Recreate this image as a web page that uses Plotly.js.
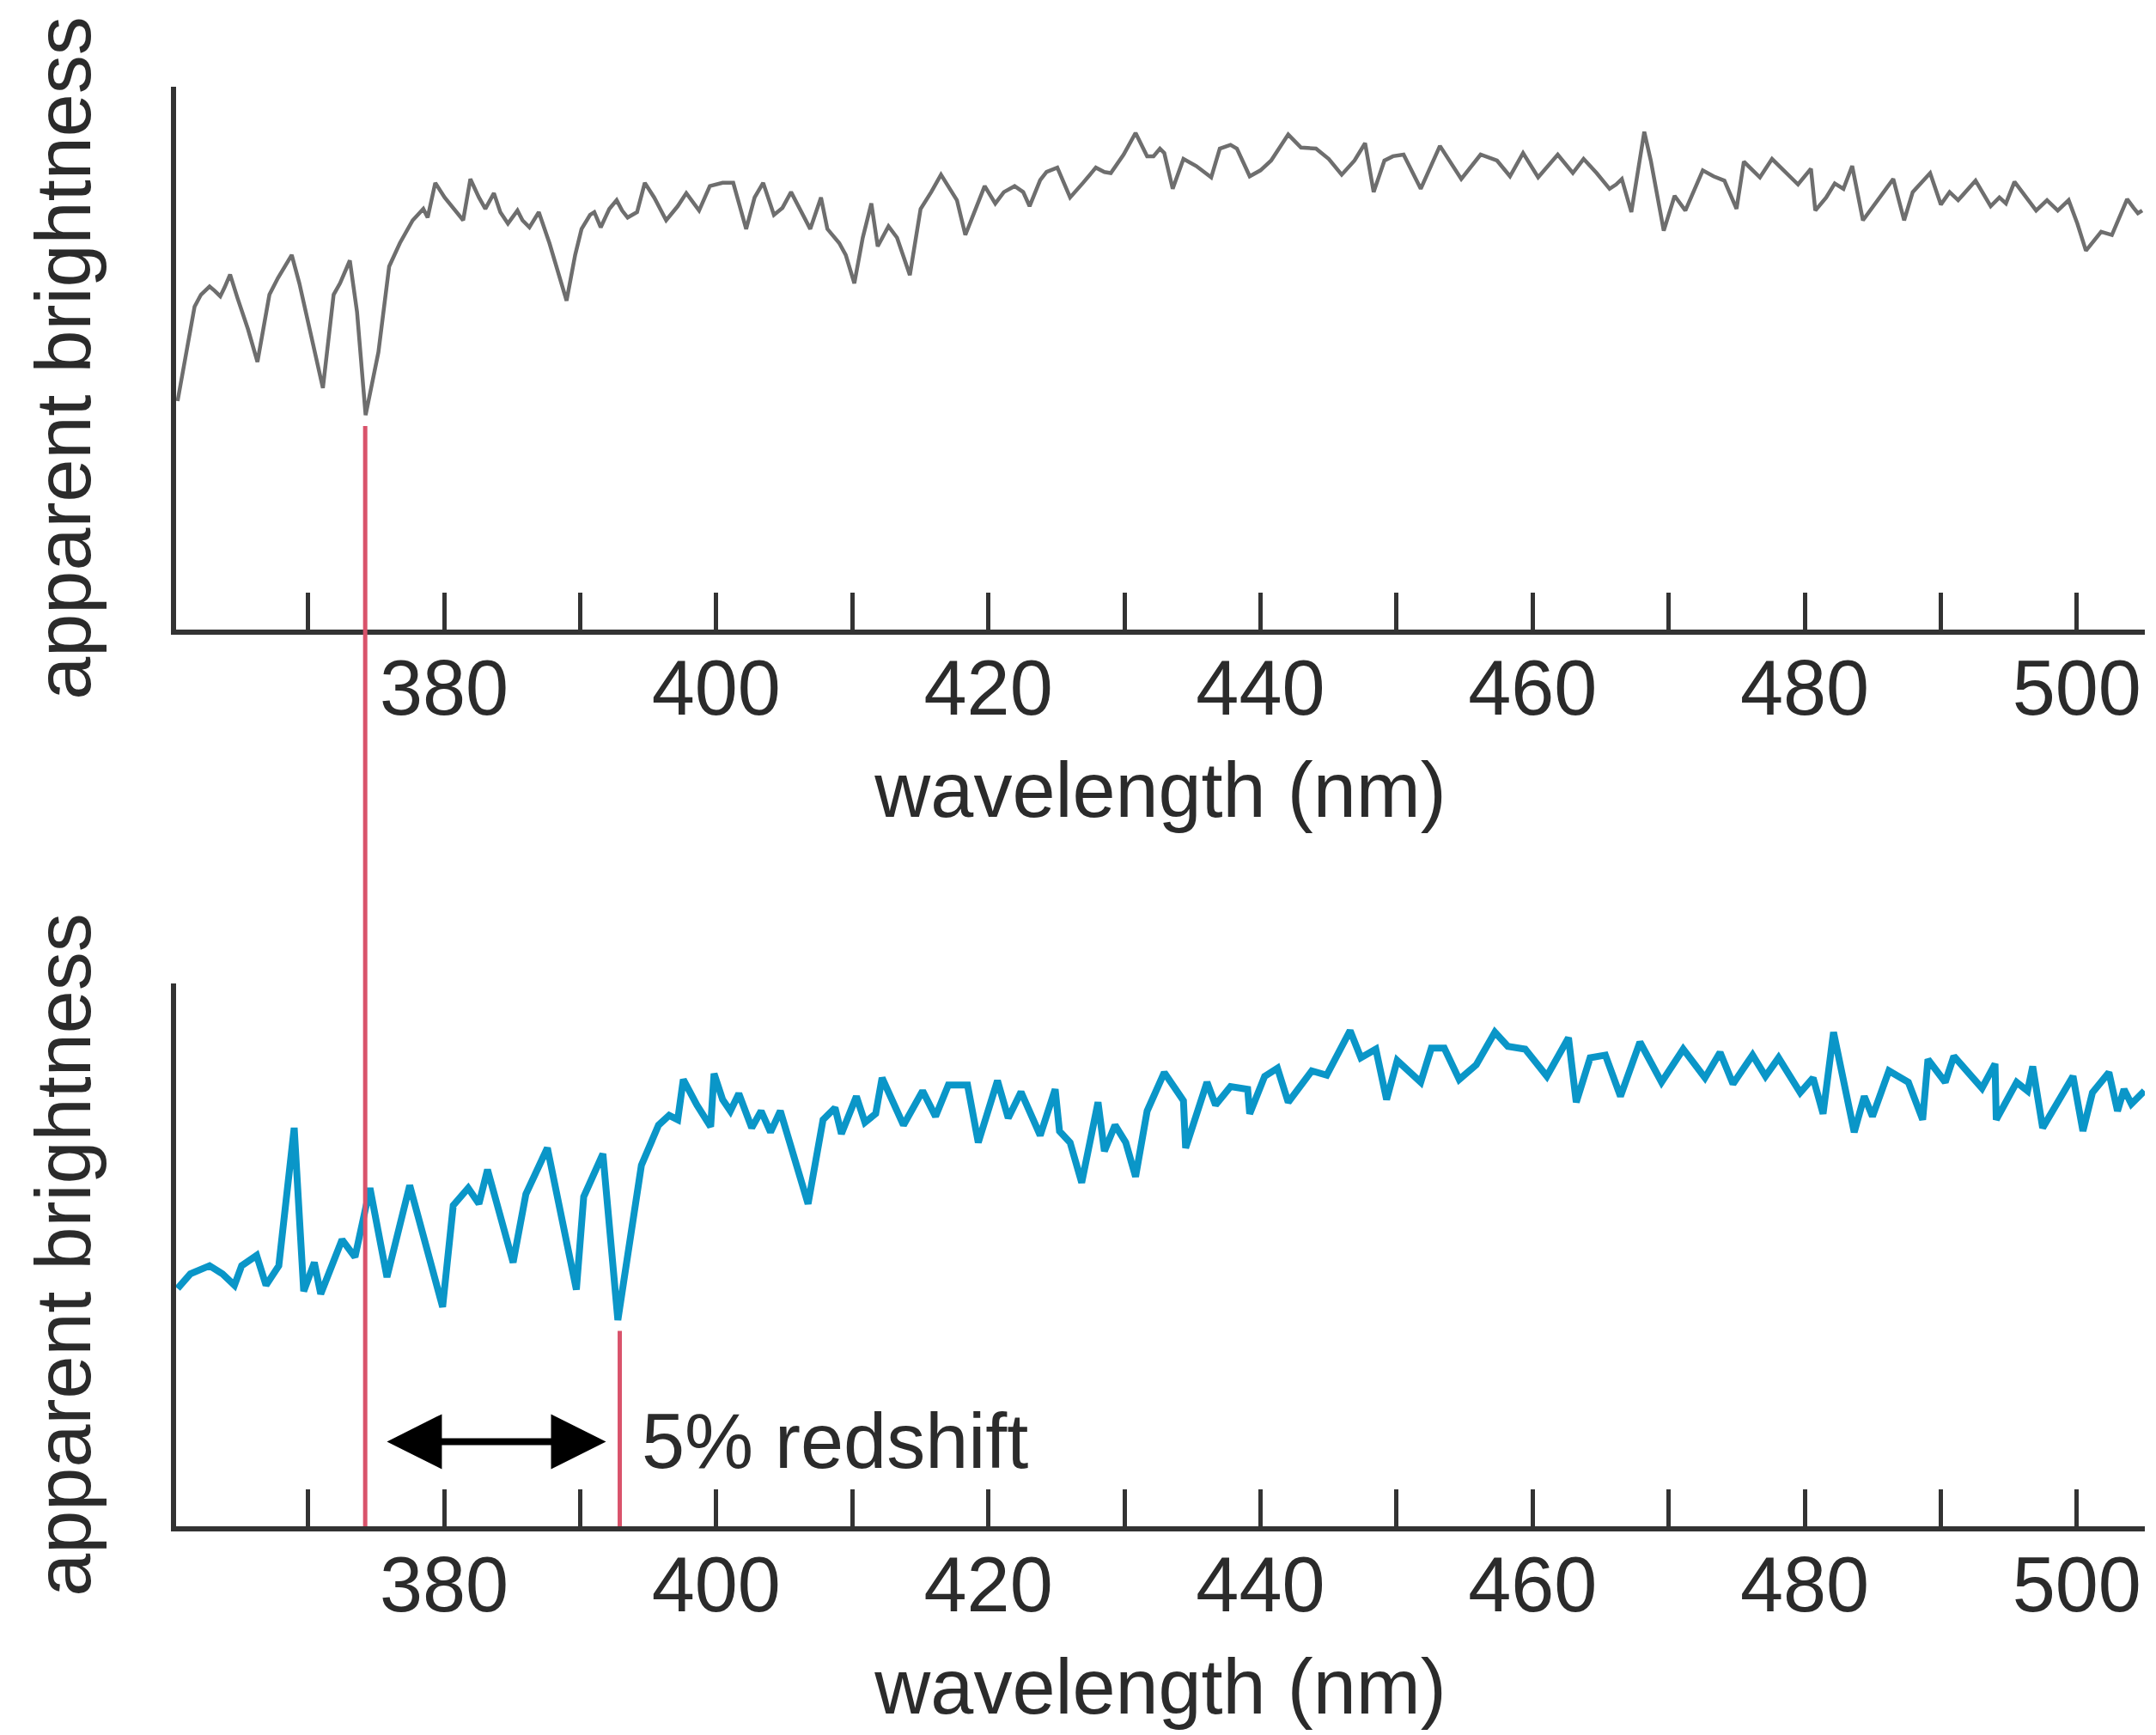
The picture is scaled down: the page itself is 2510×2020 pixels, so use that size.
<!DOCTYPE html>
<html>
<head>
<meta charset="utf-8">
<script src="https://cdn.plot.ly/plotly-3.0.1.min.js"></script>
<style>html,body{margin:0;padding:0;background:#ffffff;}</style>
</head>
<body>
<div id="chart" style="width:2510px;height:2020px;"></div>
<script>
// ---------- data: rest-frame spectrum (top panel) ----------
const topWavelengthA = [360.41,361.66,362.13,362.76,363.14,363.55,363.86,364.27,364.81,365.59,
  366.28,367.16,367.79,368.80,369.36,370.15,371.09,371.88,372.35,373.07,
  373.60,374.23,375.17,375.96,376.75,377.69,378.47,378.79,379.35,380.04,
  380.67,381.40,381.93,382.56,383.03,383.66,384.13,384.69,385.39,385.76,
  386.27,386.96,387.74,388.37,389.00,389.63,390.10,390.73,391.04,391.51,
  392.14,392.68,393.08,393.49,394.18,394.75,395.44,396.32,397.17,397.80,
  398.74,399.53,400.47,401.25,402.20,402.82,403.45,404.24,404.87,405.50,
  406.12,406.91,407.70,408.17];
const topBrightnessA = [42.1,59.5,61.7,63.2,62.4,61.4,63.0,65.4,61.1,55.3,
  49.3,61.7,64.8,69.0,63.8,55.3,44.5,61.7,63.8,68.0,
  58.5,39.5,51.1,66.9,71.2,75.4,77.5,75.9,82.3,79.6,
  77.7,75.4,83.0,79.6,77.5,80.4,76.9,74.8,77.2,75.4,
  74.1,76.9,71.2,65.9,60.6,69.0,73.8,76.4,76.9,74.1,
  77.5,79.1,77.2,75.9,76.9,82.3,79.6,75.4,78.0,80.4,
  77.2,81.7,82.3,82.3,73.8,79.6,82.3,76.4,77.7,80.6,
  77.5,73.8,79.6,73.8];
const topWavelengthB = [409.04,409.52,410.15,410.77,411.40,411.87,412.66,413.29,414.23,415.02,
  415.80,416.52,417.69,418.31,419.73,420.51,421.14,421.93,422.56,423.03,
  423.81,424.28,425.07,426.01,426.96,427.90,428.53,429.00,429.94,430.82,
  431.67,432.14,432.61,432.93,433.55,434.34,435.28,436.38,437.01,437.80,
  438.27,439.21,440.00,440.78,442.04,442.98,444.08,445.02,445.97,446.91,
  447.69,448.32,449.11,449.74,450.52,451.78,453.19,454.76,456.18];
const topBrightnessB = [71.2,69.0,63.8,72.2,78.5,70.6,74.3,72.2,65.3,77.5,
  80.6,83.8,79.1,72.7,81.7,78.5,80.6,81.7,80.6,78.0,
  82.8,84.3,85.1,79.6,82.3,85.1,84.3,84.1,87.5,91.5,
  87.2,87.2,88.6,87.8,81.2,86.7,85.4,83.3,88.6,89.3,
  88.6,83.5,84.6,86.4,91.2,88.8,88.6,86.7,83.8,86.4,
  89.6,80.6,86.4,87.2,87.5,81.2,89.1,83.0,87.5];
const topWavelengthC = [457.39,458.34,459.30,460.41,461.85,462.96,463.75,464.71,465.66,466.14,
  466.56,467.26,467.73,468.21,468.69,469.64,470.44,471.23,472.51,473.30,
  474.10,474.99,475.53,476.01,476.71,477.60,478.55,479.51,480.46,480.78,
  481.58,482.21,482.85,483.49,484.28,485.40,486.51,487.31,487.94,489.22,
  490.01,490.65,491.28,492.56,493.67,494.31,494.79,495.42,496.22,497.01,
  497.81,498.60,499.40,500.04,500.67,501.79,502.58,503.70,504.17,504.49,
  504.81];
const topBrightnessC = [86.4,83.5,87.8,83.3,87.5,84.1,86.7,84.1,81.2,82.0,
  83.0,76.9,84.3,91.7,86.4,73.5,79.9,77.2,84.6,83.5,
  82.7,77.5,86.2,85.1,83.3,86.7,84.3,82.0,84.9,77.2,
  79.6,82.2,81.2,85.4,75.4,79.1,83.0,75.4,80.6,84.1,
  78.3,80.6,79.1,82.7,78.0,79.6,78.5,82.5,79.8,77.2,
  79.1,77.2,79.1,74.8,69.8,73.3,72.7,79.3,77.7,76.7,
  77.2];

// ---------- data: redshifted spectrum (bottom panel) ----------
const botWavelengthA = [360.41,361.35,362.76,363.71,364.59,365.12,366.22,366.91,367.85,368.98,
  369.68,370.46,370.93,372.50,373.45,374.55,375.80,377.47,379.89,380.67,
  381.77,382.56,383.19,385.07,386.01,387.59,389.72,390.26,391.67,392.77,
  394.50,395.76,396.54,397.17,397.58,398.58,399.59,399.84,400.47,401.04,
  401.66,402.61,403.30,403.99,404.71,406.75,407.85];
const botBrightnessA = [43.8,46.5,48.0,46.5,44.4,48.0,49.9,44.4,48.0,73.4,
  43.3,48.6,42.8,52.8,49.6,62.3,45.9,62.8,40.4,59.1,
  62.3,59.4,65.7,48.6,61.2,69.7,43.6,60.7,68.6,38.0,
  66.5,73.9,75.7,74.9,82.3,77.6,73.6,83.4,78.6,76.5,
  79.7,73.4,76.5,72.6,76.5,59.4,74.9];
const botWavelengthB = [408.73,409.20,410.30,410.93,411.72,412.19,413.76,415.17,416.12,417.06,
  418.47,419.26,420.67,421.46,422.40,423.81,424.91,425.23,426.01,426.86,
  428.06,428.53,429.31,430.10,430.82,431.67,432.93,434.34,434.50,436.07,
  436.70,437.80,439.06,439.21,440.31,441.25,442.04,443.77,444.87,446.59,
  447.38,448.48,449.27,450.05,451.78,452.56,453.51,454.61,455.86];
const botBrightnessB = [77.1,72.3,79.2,74.4,76.0,82.6,73.9,80.2,75.5,81.3,
  81.3,70.7,82.1,75.2,80.0,72.0,80.5,72.8,70.7,63.3,
  78.1,69.1,73.9,70.7,64.4,76.5,83.6,78.4,69.7,81.8,
  77.6,81.0,80.5,76.0,82.9,84.4,78.1,83.9,83.1,91.3,
  86.3,87.9,78.6,85.8,81.8,88.1,88.1,82.3,85.0];
const botWavelengthC = [457.23,458.18,459.46,461.05,462.64,463.21,464.23,465.35,466.46,467.89,
  469.48,471.07,472.67,473.78,474.73,476.17,477.12,478.08,479.67,480.62,
  481.35,482.12,483.64,484.38,484.98,486.19,487.62,488.67,489.06,490.33,
  490.96,493.03,493.99,494.08,495.58,496.38,496.76,497.49,499.72,500.45,
  501.15,502.36,502.99,503.47,504.01,504.97];
const botBrightnessC = [91.0,88.4,87.9,82.9,90.0,78.1,86.3,86.8,79.2,89.2,
  81.8,87.9,82.6,87.3,81.5,86.8,82.9,86.3,79.9,82.6,
  76.0,91.0,72.6,79.2,75.5,83.9,81.8,74.9,86.0,81.8,
  86.6,80.7,85.2,74.9,81.8,80.2,84.7,73.4,82.9,72.8,
  79.9,83.6,76.5,80.5,77.8,80.2];

// ---------- axes / annotation values ----------
const tickValues = [370,380,390,400,410,420,430,440,450,460,470,480,490,500];
const tickLabels = ['','380','','400','','420','','440','','460','','480','','500'];
const restLine = 374.2;      // absorption line, rest frame (nm)
const redshift = 0.05;       // 5% redshift
const arrowLevel = 15.6;     // brightness level of the double arrow
const arrowLeft = 375.7, arrowRight = 391.9, labelX = 394.37;
const xTitle = 'wavelength (nm)';
const yTitle = 'apparent brightness';
const shiftLabel = '5% redshift';

// ---------- build ----------
const topX = [].concat(topWavelengthA, topWavelengthB, topWavelengthC);
const topY = [].concat(topBrightnessA, topBrightnessB, topBrightnessC);
const botX = [].concat(botWavelengthA, botWavelengthB, botWavelengthC);
const botY = [].concat(botBrightnessA, botBrightnessB, botBrightnessC);

const shiftedLine = restLine * (1 + redshift);
function dipNear(xs, ys, x0) {
  let m = Infinity;
  for (let i = 0; i < xs.length; i++) if (Math.abs(xs[i] - x0) < 1) m = Math.min(m, ys[i]);
  return m;
}
const topDip = dipNear(topX, topY, restLine);
const botDip = dipNear(botX, botY, shiftedLine);

const xRange = [360.3, 505];
const yRange = [0, 100];
const topDomain = [0.6229, 1];
const botDomain = [0, 0.3771];
function paperY(v, dom) { return dom[0] + (v - yRange[0]) / (yRange[1] - yRange[0]) * (dom[1] - dom[0]); }

const FONT = '"Liberation Sans", Arial, Helvetica, sans-serif';
const TXT = '#2b2b2b';
const AX = '#333333';
const RED = '#d9536b';

function xAxis(anchor) {
  return {
    domain: [0, 1], range: xRange, anchor: anchor,
    showline: true, linecolor: AX, linewidth: 6,
    showgrid: false, zeroline: false,
    ticks: 'inside', ticklen: 43, tickwidth: 5, tickcolor: AX,
    tickmode: 'array', tickvals: tickValues, ticktext: tickLabels,
    ticklabelstandoff: -15,
    tickfont: {family: FONT, size: 90, color: TXT},
    title: {text: xTitle, font: {family: FONT, size: 90, color: TXT}, standoff: 40},
    automargin: false, fixedrange: true
  };
}
function yAxis(anchor, dom) {
  return {
    domain: dom, range: yRange, anchor: anchor,
    showline: true, linecolor: AX, linewidth: 6,
    showgrid: false, zeroline: false, ticks: '', showticklabels: false,
    title: {text: yTitle, font: {family: FONT, size: 90, color: TXT}, standoff: 65},
    automargin: false, fixedrange: true
  };
}

const traces = [
  {x: topX, y: topY, xaxis: 'x', yaxis: 'y', type: 'scatter', mode: 'lines',
   line: {color: '#6e6e6e', width: 4.5}, hoverinfo: 'skip', name: 'rest'},
  {x: botX, y: botY, xaxis: 'x2', yaxis: 'y2', type: 'scatter', mode: 'lines',
   line: {color: '#0a96c8', width: 8}, hoverinfo: 'skip', name: 'redshifted'}
];

const layout = {
  width: 2510, height: 2020,
  margin: {l: 205, r: 13, t: 101, b: 243, pad: 0},
  paper_bgcolor: '#ffffff', plot_bgcolor: '#ffffff',
  showlegend: false,
  font: {family: FONT, size: 90, color: TXT},
  xaxis: xAxis('y'),
  yaxis: yAxis('x', topDomain),
  xaxis2: xAxis('y2'),
  yaxis2: yAxis('x2', botDomain),
  shapes: [
    {type: 'line', xref: 'x', yref: 'paper', x0: restLine, x1: restLine,
     y0: 0, y1: paperY(topDip - 2, topDomain), line: {color: RED, width: 5}, layer: 'above'},
    {type: 'line', xref: 'x2', yref: 'y2', x0: shiftedLine, x1: shiftedLine,
     y0: 0, y1: botDip - 2, line: {color: RED, width: 5}, layer: 'above'}
  ],
  annotations: [
    {xref: 'x2', yref: 'y2', x: arrowRight, y: arrowLevel, axref: 'x2', ayref: 'y2',
     ax: arrowLeft, ay: arrowLevel, text: '', showarrow: true,
     arrowhead: 2, startarrowhead: 2, arrowside: 'end+start',
     arrowsize: 1.6, startarrowsize: 1.6, arrowwidth: 8, arrowcolor: '#000000',
     standoff: 0, startstandoff: 0},
    {xref: 'x2', yref: 'y2', x: labelX, y: arrowLevel, text: shiftLabel, showarrow: false,
     xanchor: 'left', yanchor: 'middle', font: {family: FONT, size: 90, color: TXT}}
  ]
};

Plotly.newPlot('chart', traces, layout, {staticPlot: true, displayModeBar: false});
</script>
</body>
</html>
